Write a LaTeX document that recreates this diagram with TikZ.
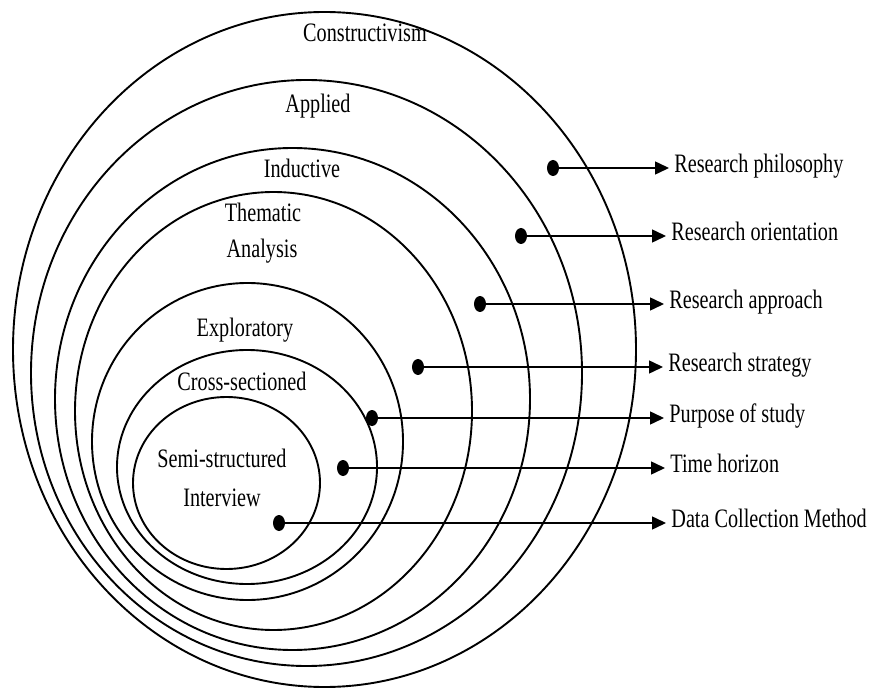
\documentclass[tikz,border=0pt]{standalone}
\usepackage{fontspec}
\setmainfont[FakeStretch=0.76]{Liberation Serif}
\usepackage{tikz}
\usetikzlibrary{arrows.meta,positioning,calc}
\tikzstyle{layer}=[line width=0.95pt]
\tikzstyle{blob}=[fill=black,ellipse,minimum width=6pt,minimum height=8pt,inner sep=0pt]
\tikzstyle{tag}=[inner sep=0pt,text height=0.7em,text depth=0.22em,font=\fontsize{13.3}{16}\selectfont]
\tikzstyle{ring}=[inner sep=0pt,anchor=base,font=\fontsize{13.3}{16}\selectfont]
\tikzstyle{link}=[line width=0.75pt,-{Triangle[length=7pt,width=6.5pt]},shorten >=2.5pt]
\usetikzlibrary{shapes.geometric}

\begin{document}
\begin{tikzpicture}[x=0.5pt,y=-0.5pt]
\useasboundingbox (0,0) rectangle (872,689);
% onion layers
\draw [layer] (324.5,349.5) ellipse [x radius=155.75pt, y radius=168.75pt];
\draw [layer] (306.5,373) ellipse [x radius=137.75pt, y radius=146.5pt];
\draw [layer] (292.5,399) ellipse [x radius=118.75pt, y radius=125.5pt];
\draw [layer] (273.5,411) ellipse [x radius=99.25pt, y radius=109.5pt];
\draw [layer] (247.5,441.5) ellipse [x radius=77.75pt, y radius=79.25pt];
\draw [layer] (247,467) ellipse [x radius=65pt, y radius=58.5pt];
\draw [layer] (226.5,483) ellipse [x radius=46.75pt, y radius=43pt];
% layer names
\node [ring] (constr) at (365,42) {Constructivism};
\node [ring] (appl) at (318,113) {Applied};
\node [ring] (induct) at (302,178) {Inductive};
\node [ring] (thema) at (263,222) {Thematic};
\node [ring] (analys) at (262,258) {Analysis};
\node [ring] (explor) at (245,337) {Exploratory};
\node [ring] (cross) at (242,390) {Cross-sectioned};
\node [ring] (semi) at (222,467) {Semi-structured};
\node [ring] (interv) at (222,506) {Interview};
% dots
\node [blob] (d1) at (553,168) {};
\node [blob] (d2) at (521,236) {};
\node [blob] (d3) at (480,304) {};
\node [blob] (d4) at (418,367) {};
\node [blob] (d5) at (372,418) {};
\node [blob] (d6) at (343,468) {};
\node [blob] (d7) at (279,523) {};
% labels
\node [tag,anchor=west] (t1) at (674,168) {Research philosophy};
\node [tag,anchor=west] (t2) at (671,236) {Research orientation};
\node [tag,anchor=west] (t3) at (669,304) {Research approach};
\node [tag,anchor=west] (t4) at (668,367) {Research strategy};
\node [tag,anchor=west] (t5) at (669,418) {Purpose of study};
\node [tag,anchor=west] (t6) at (670,468) {Time horizon};
\node [tag,anchor=west] (t7) at (671,523) {Data Collection Method};
% arrows
\draw [link] (d1) -- (t1.west);
\draw [link] (d2) -- (t2.west);
\draw [link] (d3) -- (t3.west);
\draw [link] (d4) -- (t4.west);
\draw [link] (d5) -- (t5.west);
\draw [link] (d6) -- (t6.west);
\draw [link] (d7) -- (t7.west);
\end{tikzpicture}
\end{document}
